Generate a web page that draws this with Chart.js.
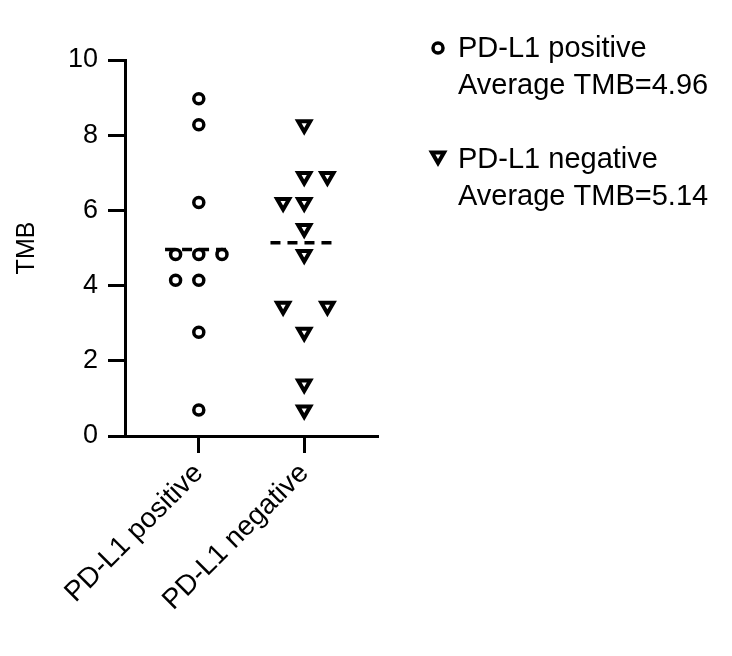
<!DOCTYPE html>
<html>
<head>
<meta charset="utf-8">
<script src="https://cdn.jsdelivr.net/npm/chart.js@4.4.1/dist/chart.umd.min.js"></script>
<style>
  html, body { margin: 0; padding: 0; background: #fff; }
  #wrap { width: 732px; height: 656px; }
</style>
</head>
<body>
<div id="wrap"><canvas id="tmb-chart" width="732" height="656"></canvas></div>
<script>
const categories = ["PD-L1 positive", "PD-L1 negative"];

// TMB per patient, and the column offset of each marker inside its group
const positiveTMB    = [8.97, 8.28, 6.21, 4.83, 4.83, 4.83, 4.14, 4.14, 2.76, 0.69];
const positiveJitter = [0, 0, 0, -0.22, 0, 0.22, -0.22, 0, 0, 0];
const negativeTMB    = [8.28, 6.90, 6.90, 6.21, 6.21, 5.52, 4.83, 3.45, 3.45, 2.76, 1.38, 0.69];
const negativeJitter = [0, 0, 0.22, -0.2, 0, 0, 0, -0.2, 0.22, 0, 0, 0];

const averageTMB = [4.96, 5.14];
const yTicks = [0, 2, 4, 6, 8, 10];

const FONT = '"Liberation Sans", Arial, Helvetica, sans-serif';
const MEAN_HALF = 0.32;

function toPoints(values, jitter, group) {
    return values.map((v, i) => ({ x: group + jitter[i], y: v }));
}

function meanLine(group) {
    const m = averageTMB[group - 1];
    return [{ x: group - MEAN_HALF, y: m }, { x: group + MEAN_HALF, y: m }];
}

const pointStyles = [
    { pointStyle: "circle", pointRadius: 5, borderWidth: 3.5, rotation: 0 },
    { pointStyle: "triangle", pointRadius: 7, borderWidth: 4, rotation: 180 },
];

// legend at the right, two lines per group
const sideLegend = {
    id: "sideLegend",
    afterDraw(chart) {
        const ctx = chart.ctx;
        ctx.save();
        ctx.font = "29px " + FONT;
        ctx.textBaseline = "alphabetic";
        categories.forEach((name, i) => {
            const base = 57 + i * 111;
            const st = pointStyles[i];
            ctx.fillStyle = "#fff";
            ctx.strokeStyle = "#000";
            ctx.lineWidth = st.borderWidth;
            Chart.helpers.drawPoint(ctx, {
                pointStyle: st.pointStyle,
                rotation: st.rotation,
                radius: st.pointRadius,
                borderWidth: st.borderWidth,
            }, 438, i === 0 ? base - 9 : base - 12);
            ctx.fillStyle = "#000";
            ctx.fillText(name, 458, base);
            ctx.fillText("Average TMB=" + averageTMB[i].toFixed(2), 458, base + 37);
        });
        ctx.restore();
    }
};

const datasets = [
    {
        data: toPoints(positiveTMB, positiveJitter, 1),
        ...pointStyles[0],
        borderColor: "#000",
        backgroundColor: "#fff",
        order: 0,
    },
    {
        data: toPoints(negativeTMB, negativeJitter, 2),
        ...pointStyles[1],
        borderColor: "#000",
        backgroundColor: "#fff",
        order: 0,
    },
    {
        data: meanLine(1),
        showLine: true,
        pointRadius: 0,
        borderColor: "#000",
        borderWidth: 3.5,
        borderDash: [10, 7],
        order: 1,
    },
    {
        data: meanLine(2),
        showLine: true,
        pointRadius: 0,
        borderColor: "#000",
        borderWidth: 3.5,
        borderDash: [10, 7],
        order: 1,
    },
];

const ctx = document.getElementById("tmb-chart").getContext("2d");

new Chart(ctx, {
    type: "scatter",
    data: { datasets },
    plugins: [sideLegend],
    options: {
        responsive: false,
        animation: false,
        devicePixelRatio: 1,
        events: [],
        layout: { padding: { top: 60, right: 354, left: 0, bottom: 0 } },
        plugins: {
            legend: { display: false },
            tooltip: { enabled: false },
        },
        scales: {
            x: {
                type: "linear",
                min: 0.3,
                max: 2.7,
                afterBuildTicks: scale => {
                    scale.ticks = categories.map((c, i) => ({ value: i + 1 }));
                },
                afterFit: scale => { scale.height = 220; },
                ticks: {
                    color: "#000",
                    font: { family: FONT, size: 28 },
                    minRotation: 45,
                    maxRotation: 45,
                    padding: 4,
                    callback: val => categories[Math.round(val) - 1] || "",
                },
                grid: {
                    drawOnChartArea: false,
                    drawTicks: true,
                    tickLength: 17,
                    tickColor: "#000",
                    tickWidth: 3,
                },
                border: { display: true, color: "#000", width: 3 },
            },
            y: {
                min: 0,
                max: 10,
                afterBuildTicks: scale => {
                    scale.ticks = yTicks.map(v => ({ value: v }));
                },
                afterFit: scale => { scale.width = 125; },
                title: {
                    display: true,
                    text: "TMB",
                    color: "#000",
                    font: { family: FONT, size: 25 },
                    padding: { top: 12, bottom: 0 },
                },
                ticks: {
                    color: "#000",
                    font: { family: FONT, size: 27 },
                    padding: 10,
                },
                grid: {
                    drawOnChartArea: false,
                    drawTicks: true,
                    tickLength: 17,
                    tickColor: "#000",
                    tickWidth: 3,
                },
                border: { display: true, color: "#000", width: 3 },
            },
        },
    },
});
</script>
</body>
</html>
